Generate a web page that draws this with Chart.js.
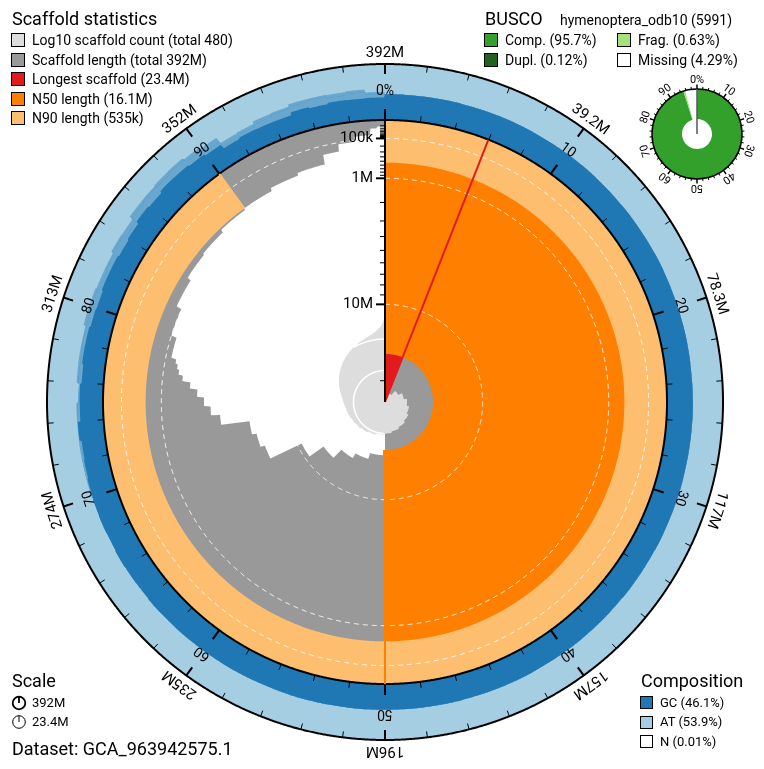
<!DOCTYPE html>
<html>
<head>
<meta charset="utf-8">
<script src="https://cdn.jsdelivr.net/npm/chart.js@4.4.1/dist/chart.umd.min.js"></script>
<style>
  html, body { margin:0; padding:0; background:#ffffff; }
  body { width:764px; height:769px; overflow:hidden; position:relative; font-family: Roboto, "Noto Sans", "DejaVu Sans", sans-serif; color:#000; }
  #snail { position:absolute; left:-15px; top:2px; width:800px; height:800px; }
  #busco { position:absolute; left:627px; top:64px; width:140px; height:140px; }
  .t { position:absolute; white-space:nowrap; height:20px; line-height:20px; }
  .sq { position:absolute; box-sizing:border-box; border:1.5px solid #000; }
  svg.ic { position:absolute; }
</style>
</head>
<body>
<canvas id="snail" width="800" height="800"></canvas>
<canvas id="busco" width="140" height="140"></canvas>
<script>
// ================= DATA =================
// longest scaffolds, one value each (Mb)
const topScaffoldMb = [23.4, 22.5, 21.8, 21.0, 20.2, 19.5, 18.8, 17.9, 17.0, 16.1,
  15.4, 14.6, 13.9, 12.5, 10.5, 7.0, 6.6, 6.2, 4.0, 3.4, 3.0, 2.6, 2.2, 1.8, 1.6, 1.5, 1.4];
// remaining scaffolds in groups of similar size: number of scaffolds and length (Mb)
const tailGroupCount = [5, 8, 10, 11, 12, 14, 16, 17, 19, 18, 33, 60, 80, 150];
const tailGroupLenMb = [1.2, 1.0, 0.82, 0.70, 0.66, 0.58, 0.535, 0.46, 0.40, 0.22, 0.12, 0.065, 0.02, 0.0125];
const longestMb = 23.4;
const n50Mb = 16.1;
const n90Mb = 0.535;

// GC proportion per 1% bin of the assembly
const gcBinMean = [
  .462,.460,.461,.463,.459,.460,.462,.461,.458,.460,
  .461,.463,.460,.459,.462,.460,.461,.464,.460,.459,
  .460,.462,.461,.458,.460,.463,.461,.460,.459,.462,
  .461,.460,.463,.459,.460,.462,.458,.461,.460,.463,
  .460,.459,.462,.461,.460,.458,.462,.460,.461,.459,
  .460,.462,.459,.461,.463,.460,.458,.461,.462,.460,
  .459,.462,.460,.464,.457,.461,.466,.455,.462,.458,
  .452,.468,.445,.462,.455,.438,.452,.446,.463,.470,
  .478,.442,.472,.500,.452,.548,.570,.556,.582,.520,
  .470,.362,.405,.440,.470,.502,.520,.482,.505,.462];
// GC spread (below / above mean) for bins from gcSpreadStart on
const gcSpreadStart = 70;
const gcBinDown = [.00,.03,.02,.00,.04,.02,.06,.03,.05,.08, .10,.04,.07,.12,.05,.10,.14,.09,.12,.08, .06,.03,.05,.09,.12,.10,.14,.08,.11,.06];
const gcBinUp   = [.02,.00,.03,.01,.02,.00,.03,.04,.02,.05, .04,.06,.03,.04,.08,.05,.03,.06,.04,.07, .09,.08,.05,.06,.04,.05,.03,.06,.05,.04];

const compositionLabels = ['GC', 'AT', 'N'];
const compositionPct = [46.1, 53.9, 0.01];

const lengthTickValues = [1e5, 1e6, 1e7];
const lengthTickLabels = ['100k', '1M', '10M'];
const countRingValues = [10, 100];

const buscoLineage = 'hymenoptera_odb10';
const buscoTotal = 5991;
const buscoLabels = ['Comp.', 'Dupl.', 'Frag.', 'Missing'];
const buscoPct = [95.7, 0.12, 0.63, 4.29];
const datasetName = 'GCA_963942575.1';

// ================= STYLE / LAYOUT =================
const COLORS = { count:'#dddddd', len:'#999999', longest:'#e31a1c', n50:'#ff7f00', n90:'#fdbf6f',
  gc:'#1f78b4', at:'#a6cee3', n:'#ffffff', comp:'#33a02c', dupl:'#20641c', frag:'#a3e27f', miss:'#ffffff' };
const R_SNAIL = 282, R_OUT = 338, K_COUNT = 31.5;
const N = 2000;

// ================= DERIVED =================
const scaffolds = topScaffoldMb.slice();
tailGroupCount.forEach((c, g) => { for (let i = 0; i < c; i++) scaffolds.push(tailGroupLenMb[g]); });
const cumEnd = []; let acc = 0; scaffolds.forEach(l => { acc += l; cumEnd.push(acc); });
const totalMb = acc;

function fmt(mb) { return mb >= 1 ? Number(mb.toPrecision(3)) + 'M' : Number((mb * 1000).toPrecision(3)) + 'k'; }
const rLen = mb => R_SNAIL * (1 - Math.sqrt(mb / longestMb));
const rCount = n => K_COUNT * Math.log10(n);
const rGC = g => R_SNAIL + (R_OUT - R_SNAIL) * g;

function scaffoldIndexAt(f) {
  const pos = f * totalMb;
  let lo = 0, hi = cumEnd.length - 1;
  while (lo < hi) { const mid = (lo + hi) >> 1; if (cumEnd[mid] > pos) hi = mid; else lo = mid + 1; }
  return lo;
}
const samples = Array.from({length: N}, (_, i) => i / N);
const sIdx = samples.map(scaffoldIndexAt);
const lenAt = sIdx.map(k => scaffolds[k]);
const countAt = sIdx.map(k => k + 1);
const binAt = samples.map(f => Math.min(99, Math.floor(f * 100 + 1e-9)));
const gcMeanAt = binAt.map(b => gcBinMean[b]);
const gcMinAt = binAt.map(b => b >= gcSpreadStart ? gcBinMean[b] - gcBinDown[b - gcSpreadStart] : gcBinMean[b]);
const gcMaxAt = binAt.map(b => b >= gcSpreadStart ? gcBinMean[b] + gcBinUp[b - gcSpreadStart] : gcBinMean[b]);
const longestFrac = longestMb / totalMb;

// ================= DATASETS (bottom -> top) =================
const datasets = [];
function add(ds) {
  datasets.push(Object.assign({ pointRadius: 0, pointHoverRadius: 0, borderWidth: 0,
    borderColor: 'rgba(0,0,0,0)', fill: false, tension: 0 }, ds));
  return datasets.length - 1;
}
const constant = v => samples.map(() => v);
add({ label: 'AT', data: constant(R_OUT), fill: 'origin', backgroundColor: COLORS.at });
add({ label: 'GC max', data: gcMaxAt.map(rGC), fill: 'origin', backgroundColor: 'rgba(31,120,180,0.45)' });
add({ label: 'GC', data: gcMeanAt.map(rGC), fill: 'origin', backgroundColor: COLORS.gc });
add({ label: 'GC low', data: gcMeanAt.map(rGC), fill: 'origin', backgroundColor: 'rgba(166,206,227,0.55)' });
add({ label: 'GC min', data: gcMinAt.map(rGC), fill: 'origin', backgroundColor: COLORS.gc });
add({ label: 'Scaffold length', data: constant(R_SNAIL), fill: 'origin', backgroundColor: COLORS.len });
add({ label: 'length mask', data: samples.map((f, i) => f >= 0.5 ? rLen(lenAt[i]) : 0), fill: 'origin', backgroundColor: '#ffffff' });
const n50In = add({ label: 'N50 inner', data: samples.map(f => f < 0.5 ? rLen(n50Mb) : R_SNAIL) });
add({ label: 'N50', data: constant(R_SNAIL), fill: n50In, backgroundColor: COLORS.n50 });
const n90In = add({ label: 'N90 inner', data: samples.map(f => f < 0.9 ? rLen(n90Mb) : R_SNAIL) });
add({ label: 'N90', data: constant(R_SNAIL), fill: n90In, backgroundColor: COLORS.n90 });
add({ label: 'Longest', data: samples.map(f => f < longestFrac ? rLen(n50Mb) : 0), fill: 'origin', backgroundColor: COLORS.longest });
add({ label: 'Log10 count', data: countAt.map(rCount), fill: 'origin', backgroundColor: COLORS.count });
countRingValues.forEach(c => add({ label: 'count ' + c, data: countAt.map(n => n > c ? rCount(c) : null), borderColor: '#ffffff', borderWidth: 1.5 }));
lengthTickValues.forEach(v => add({ label: 'len ' + v, data: constant(rLen(v / 1e6)), borderColor: '#ffffff', borderWidth: 1, borderDash: [5, 4] }));
add({ label: 'inner edge', data: constant(R_SNAIL), borderColor: '#000000', borderWidth: 2 });
add({ label: 'outer edge', data: constant(R_OUT), borderColor: '#000000', borderWidth: 2 });
datasets.forEach((d, i) => { d.order = datasets.length - i; });

// ================= DECORATION PLUGIN =================
const snailDecor = {
  id: 'snailDecor',
  afterDatasetsDraw(chart) {
    const s = chart.scales.r, ctx = chart.ctx;
    const P = (f, r) => s.getPointPosition(f * N, r);
    const seg = (f, r0, r1, w, c) => {
      const a = P(f, r0), b = P(f, r1);
      ctx.beginPath(); ctx.moveTo(a.x, a.y); ctx.lineTo(b.x, b.y);
      ctx.lineWidth = w; ctx.strokeStyle = c; ctx.lineCap = 'butt'; ctx.stroke();
    };
    const label = (f, r, txt, size) => {
      const p = P(f, r);
      ctx.save(); ctx.translate(p.x, p.y); ctx.rotate(f * 2 * Math.PI);
      ctx.font = size + 'px Roboto'; ctx.fillStyle = '#000'; ctx.textAlign = 'center'; ctx.textBaseline = 'middle';
      ctx.fillText(txt, 0, 0); ctx.restore();
    };
    ctx.save();
    // N50 / N90 / longest lines
    seg(0.9, rLen(n90Mb), R_SNAIL, 2, COLORS.n90);
    seg(0.5, rLen(n50Mb), R_SNAIL, 2, COLORS.n50);
    seg(longestFrac, 0, R_SNAIL, 2, COLORS.longest);
    // outer length scale
    for (let k = 0; k < 50; k++) {
      const f = k / 50, major = k % 5 === 0;
      seg(f, R_OUT, R_OUT - (major ? 10 : 6), major ? 2 : 1, '#000');
      if (major) label(f, 349, fmt(totalMb * (k === 0 ? 1 : k / 50)), 15);
    }
    // percent scale on inner edge
    for (let k = 0; k < 50; k++) {
      const f = k / 50, major = k % 5 === 0;
      seg(f, R_SNAIL, R_SNAIL + (major ? 11 : 6), major ? 2 : 1, '#000');
      if (major) label(f, 311, k === 0 ? '0%' : String(k * 2), 14);
    }
    // radial length axis
    seg(0, 0, R_SNAIL, 2, '#000');
    const minor = [];
    [1e4, 1e5, 1e6, 1e7].forEach(d => { for (let m = 1; m <= 9; m++) { const v = m * d; if (v < longestMb * 1e6 && !lengthTickValues.includes(v)) minor.push(v); } });
    minor.forEach(v => { const p = P(0, rLen(v / 1e6)); ctx.beginPath(); ctx.moveTo(p.x - 5, p.y); ctx.lineTo(p.x, p.y); ctx.lineWidth = 1; ctx.strokeStyle = '#000'; ctx.stroke(); });
    lengthTickValues.forEach((v, i) => {
      const p = P(0, rLen(v / 1e6));
      ctx.beginPath(); ctx.moveTo(p.x - 9, p.y); ctx.lineTo(p.x, p.y); ctx.lineWidth = 2; ctx.strokeStyle = '#000'; ctx.stroke();
      ctx.font = '15px Roboto'; ctx.fillStyle = '#000'; ctx.textAlign = 'right'; ctx.textBaseline = 'middle';
      ctx.fillText(lengthTickLabels[i], p.x - 12, p.y);
    });
    ctx.restore();
  }
};

new Chart(document.getElementById('snail'), {
  type: 'radar',
  data: { labels: samples.map(() => ''), datasets },
  options: {
    responsive: false, animation: false, events: [], devicePixelRatio: 1,
    layout: { padding: 0 },
    plugins: { legend: { display: false }, tooltip: { enabled: false }, filler: { propagate: false, drawTime: 'beforeDatasetDraw' } },
    elements: { line: { tension: 0 }, point: { radius: 0, hoverRadius: 0 } },
    scales: { r: { display: false, min: 0, max: 400, startAngle: 0,
      grid: { display: false }, angleLines: { display: false }, pointLabels: { display: false }, ticks: { display: false } } }
  },
  plugins: [snailDecor]
});

// ================= BUSCO DONUT =================
const buscoDecor = {
  id: 'buscoDecor',
  afterDatasetsDraw(chart) {
    const arc = chart.getDatasetMeta(0).data[0];
    const cx = arc.x, cy = arc.y, R = arc.outerRadius, ctx = chart.ctx;
    const pt = (f, r) => ({ x: cx + r * Math.sin(f * 2 * Math.PI), y: cy - r * Math.cos(f * 2 * Math.PI) });
    ctx.save();
    ctx.beginPath(); ctx.arc(cx, cy, R, 0, 2 * Math.PI); ctx.lineWidth = 1.5; ctx.strokeStyle = '#000'; ctx.stroke();
    ctx.beginPath(); ctx.moveTo(cx, cy); ctx.lineTo(cx, cy - R); ctx.lineWidth = 1.5; ctx.strokeStyle = '#555'; ctx.stroke();
    for (let k = 0; k < 50; k++) {
      const f = k / 50, major = k % 5 === 0;
      const a = pt(f, R), b = pt(f, R + (major ? 4.5 : 2.5));
      ctx.beginPath(); ctx.moveTo(a.x, a.y); ctx.lineTo(b.x, b.y); ctx.lineWidth = major ? 1.5 : 1; ctx.strokeStyle = '#000'; ctx.stroke();
      if (major) {
        const p = pt(f, R + 9);
        ctx.save(); ctx.translate(p.x, p.y); ctx.rotate(f * 2 * Math.PI);
        ctx.font = '11px Roboto'; ctx.fillStyle = '#000'; ctx.textAlign = 'center'; ctx.textBaseline = 'middle';
        ctx.fillText(k === 0 ? '0%' : String(k * 2), 0, 0); ctx.restore();
      }
    }
    ctx.restore();
  }
};
new Chart(document.getElementById('busco'), {
  type: 'doughnut',
  data: { labels: ['Dupl.', 'Single', 'Frag.', 'Missing'],
    datasets: [{ data: [buscoPct[1], buscoPct[0] - buscoPct[1], buscoPct[2], buscoPct[3]],
      backgroundColor: [COLORS.dupl, COLORS.comp, COLORS.frag, COLORS.miss], borderWidth: 0, radius: 45, cutout: '33.3%' }] },
  options: { responsive: false, animation: false, events: [], devicePixelRatio: 1, rotation: 0,
    plugins: { legend: { display: false }, tooltip: { enabled: false } } },
  plugins: [buscoDecor]
});

// ================= LEGENDS (HTML text) =================
function txt(x, cy, s, size) {
  const d = document.createElement('div'); d.className = 't';
  d.style.left = x + 'px'; d.style.top = (cy - 10) + 'px'; d.style.fontSize = size + 'px';
  d.textContent = s; document.body.appendChild(d);
}
function sq(x, cy, size, color) {
  const d = document.createElement('div'); d.className = 'sq';
  d.style.left = x + 'px'; d.style.top = (cy - size / 2) + 'px'; d.style.width = size + 'px'; d.style.height = size + 'px';
  d.style.background = color; document.body.appendChild(d);
}
txt(12, 19, 'Scaffold statistics', 18);
const scafItems = [
  [COLORS.count, 'Log10 scaffold count (total ' + scaffolds.length + ')'],
  [COLORS.len, 'Scaffold length (total ' + fmt(totalMb) + ')'],
  [COLORS.longest, 'Longest scaffold (' + fmt(longestMb) + ')'],
  [COLORS.n50, 'N50 length (' + fmt(n50Mb) + ')'],
  [COLORS.n90, 'N90 length (' + fmt(n90Mb) + ')']];
scafItems.forEach((it, i) => { const cy = 40 + 19.6 * i; sq(11, cy, 14, it[0]); txt(32, cy, it[1], 14); });

txt(485, 19, 'BUSCO', 18);
txt(560, 20, buscoLineage + ' (' + buscoTotal + ')', 14);
const buscoColors = [COLORS.comp, COLORS.dupl, COLORS.frag, COLORS.miss];
const buscoPos = [[484, 40], [484, 60], [617, 40], [617, 60]];
buscoLabels.forEach((l, i) => { sq(buscoPos[i][0], buscoPos[i][1], 14, buscoColors[i]); txt(buscoPos[i][0] + 21, buscoPos[i][1], l + ' (' + buscoPct[i] + '%)', 14); });

txt(12, 681, 'Scale', 18);
function icon(cy, w) {
  const ns = 'http://www.w3.org/2000/svg';
  const s = document.createElementNS(ns, 'svg'); s.setAttribute('class', 'ic'); s.setAttribute('width', 16); s.setAttribute('height', 16);
  s.style.left = '10.5px'; s.style.top = (cy - 8) + 'px';
  s.innerHTML = '<circle cx="8" cy="8" r="6.3" fill="none" stroke="#000" stroke-width="' + w + '"/><line x1="8" y1="8" x2="8" y2="1.7" stroke="#000" stroke-width="' + w + '"/>';
  document.body.appendChild(s);
}
icon(703, 1.8); txt(32, 703, fmt(totalMb), 13);
icon(722, 1); txt(32, 722, fmt(longestMb), 13);
txt(12, 749, 'Dataset: ' + datasetName, 18);

txt(641, 681, 'Composition', 18);
const compColors = [COLORS.gc, COLORS.at, COLORS.n];
compositionLabels.forEach((l, i) => { const cy = 702.5 + 19.5 * i; sq(640, cy, 13, compColors[i]); txt(660, cy, l + ' (' + compositionPct[i] + '%)', 13); });
</script>
</body>
</html>
